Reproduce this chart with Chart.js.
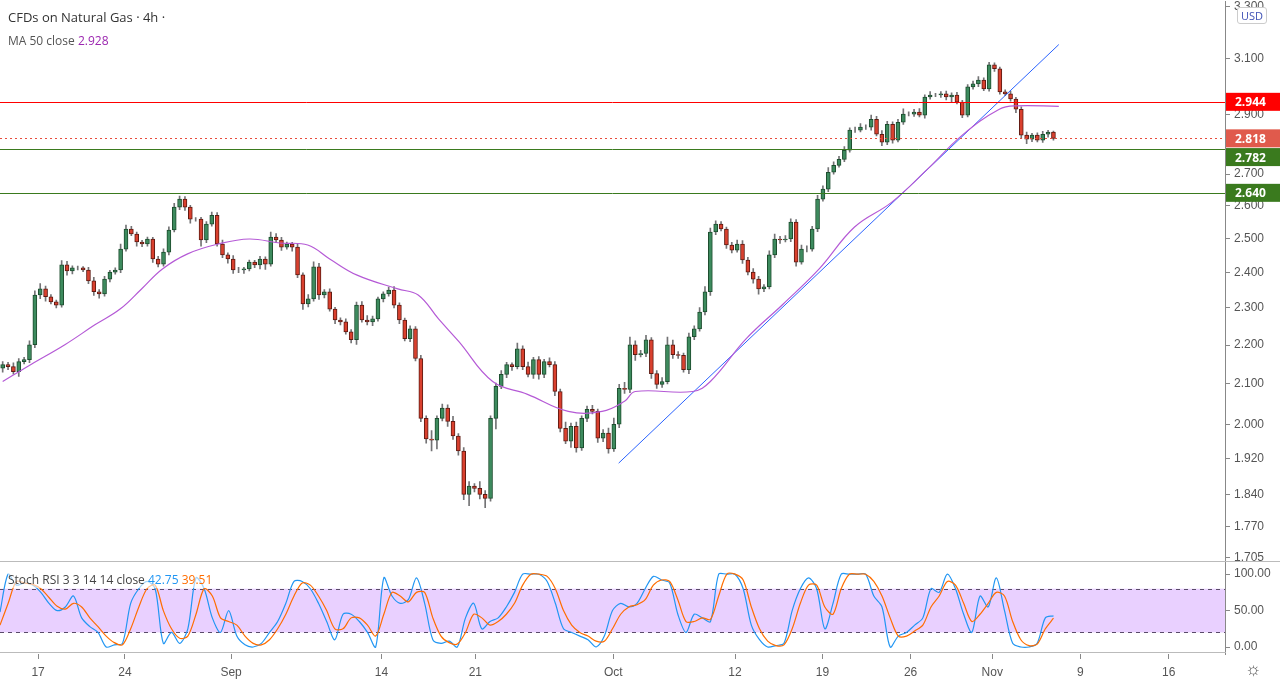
<!DOCTYPE html>
<html><head><meta charset="utf-8">
<script src="https://cdn.jsdelivr.net/npm/chart.js@4.4.0/dist/chart.umd.min.js"></script>
<style>
html,body{margin:0;padding:0;background:#fff;width:1280px;height:680px;overflow:hidden;font-family:"Open Sans",Roboto,sans-serif}
#c1{position:absolute;left:0;top:-10px}
#c2{position:absolute;left:0;top:553px}
.t{position:absolute;font-size:13px;color:#333;white-space:nowrap}
#frame1{position:absolute;left:0;top:561px;width:1280px;height:1px;background:#bbb}
#frame2{position:absolute;left:0;top:652px;width:1226px;height:1px;background:#bbb}
#usd{position:absolute;left:1237px;top:7px;border:1px solid #ccc;border-radius:3px;font-size:11px;color:#3f51b5;padding:0 3px;background:#fff}
</style></head><body>
<canvas id="c1" width="1280" height="588"></canvas>
<canvas id="c2" width="1280" height="129"></canvas>
<div id="frame1"></div><div id="frame2"></div>
<div class="t" style="left:8px;top:8px">CFDs on Natural Gas · 4h ·</div>
<div class="t" style="left:8px;top:32px;font-size:12px;color:#555">MA 50 close <span style="color:#9c27b0">2.928</span></div>
<div class="t" style="left:8px;top:571px;font-size:12px;color:#444;background:rgba(255,255,255,0.6)">Stoch RSI 3 3 14 14 close <span style="color:#2196f3">42.75</span> <span style="color:#ff6d00">39.51</span></div>
<div id="usd">USD</div>
<div class="t" style="left:1245px;top:656px;font-size:18px;color:#555">☼</div>
<script>
const closes=[2.149,2.144,2.131,2.157,2.162,2.201,2.336,2.353,2.331,2.317,2.308,2.422,2.404,2.413,2.413,2.407,2.376,2.345,2.339,2.381,2.401,2.407,2.468,2.528,2.513,2.489,2.483,2.498,2.439,2.424,2.459,2.525,2.595,2.620,2.595,2.558,2.558,2.495,2.543,2.570,2.483,2.451,2.439,2.407,2.407,2.410,2.430,2.422,2.439,2.424,2.504,2.495,2.474,2.483,2.474,2.393,2.311,
2.325,2.416,2.336,2.345,2.297,2.267,2.262,2.235,2.214,2.308,2.267,2.262,2.270,2.325,2.339,2.350,2.308,2.267,2.217,2.243,2.165,2.015,1.966,1.963,2.015,2.040,2.008,1.973,1.938,1.840,1.858,1.853,1.840,1.831,2.015,2.094,2.124,2.149,2.144,2.190,2.144,2.124,2.162,2.124,2.157,2.149,2.081,1.991,1.961,1.996,1.945,2.015,2.037,2.032,1.968,1.980,1.943,2.001,2.089,
2.086,2.201,2.175,2.178,2.214,2.126,2.099,2.106,2.201,2.175,2.173,2.136,2.222,2.243,2.289,2.345,2.519,2.543,2.528,2.480,2.465,2.483,2.436,2.401,2.381,2.353,2.359,2.451,2.498,2.495,2.498,2.549,2.430,2.468,2.468,2.528,2.620,2.652,2.706,2.728,2.748,2.778,2.846,2.846,2.856,2.856,2.883,2.832,2.805,2.866,2.812,2.873,2.901,2.901,2.908,2.897,2.961,2.968,2.968,2.972,2.961,2.968,2.943,2.897,2.997,3.008,3.022,2.990,3.077,3.063,2.979,2.972,2.954,2.918,2.829,2.815,2.829,2.812,2.832,2.839,2.818];
const wickUpMilli=[8,6,10,8,6,10,12,15,8,6,5,12,10,6,5,4,8,10,6,8,5,6,15,12,8,6,5,6,5,8,10,10,12,10,8,6,5,6,8,10,8,12,6,10,8,5,6,5,8,6,15,10,8,6,5,8,6,
12,15,10,6,8,5,6,8,6,8,10,12,8,5,6,8,10,6,5,8,6,8,6,20,6,10,8,12,6,8,10,6,15,8,6,8,10,6,5,15,8,12,6,8,6,10,8,6,15,8,10,6,8,10,6,8,12,15,10,
15,20,10,8,12,6,8,10,20,12,8,6,10,8,12,15,12,10,8,6,8,12,10,8,10,8,6,12,15,8,10,10,8,12,10,8,12,10,15,12,10,12,8,10,12,8,15,10,12,10,8,10,18,8,10,12,8,12,6,8,10,8,10,6,8,10,12,8,10,8,6,8,10,6,8,10,6,8,10,6,4];
const wickDnMilli=[10,8,6,12,6,8,8,10,12,6,8,6,12,8,6,5,8,10,12,6,8,6,8,6,5,12,8,6,10,8,6,8,6,8,10,12,6,18,8,6,6,8,12,10,8,10,6,8,12,15,6,8,10,6,12,8,15,
8,6,12,8,6,10,8,6,8,12,6,8,10,6,8,6,8,10,6,8,6,8,10,25,20,6,12,8,10,12,25,8,10,20,6,25,6,8,10,6,8,6,10,12,8,6,10,8,6,15,10,6,8,6,10,8,10,6,8,
10,8,15,6,8,12,10,8,6,10,8,6,10,8,6,8,10,8,6,10,8,6,10,8,12,15,8,6,8,10,6,8,12,6,8,6,8,6,8,6,6,8,6,8,6,8,10,6,12,8,10,6,8,6,8,6,10,8,6,8,10,20,6,8,6,8,10,6,8,10,8,6,8,12,10,15,8,6,8,10,6];
const firstOpen=2.140;
const maIdx=[0,5.2,11.6,17.2,21.9,25.9,29.8,34.5,40.2,46,51.7,56.9,61,66,73.7,77.5,81.3,85.1,91.4,97.9,105.5,111.8,116,118,128.7,132,138.7,145.6,152.3,158.9,165.8,172.5,179,185.9,189.1,197];
const maVal=[2.106,2.149,2.201,2.254,2.297,2.353,2.410,2.454,2.483,2.498,2.486,2.480,2.439,2.393,2.353,2.336,2.270,2.209,2.106,2.074,2.032,2.032,2.057,2.081,2.081,2.106,2.217,2.311,2.410,2.534,2.610,2.716,2.829,2.918,2.930,2.928];
const trendIdx=[114.9,197];
const trendVal=[1.910,3.153];
const priceTicks=[1.705,1.77,1.84,1.92,2.0,2.1,2.2,2.3,2.4,2.5,2.6,2.7,2.8,2.9,3.1,3.3];
const levels=[2.944,2.818,2.782,2.640];
const levelColors=['#ff0000','#e05a4c','#3a7a1e','#3a7a1e'];
const levelLineColors=['#ff0000','#e74c3c','#3a7a1e','#3a7a1e'];
const levelLabelShift=[0,0,8,0];
const stochK=[48,100,85,88,85,75,60,50,55,70,40,28,20,0,3,5,60,80,90,80,5,20,5,25,95,80,40,20,50,15,3,0,5,20,35,60,90,90,80,60,35,10,45,45,35,20,0,95,70,60,65,95,60,10,5,8,0,40,60,25,35,40,55,75,100,100,100,90,60,25,20,15,10,0,15,50,60,55,60,80,97,92,88,45,20,45,40,35,100,100,100,80,30,10,0,2,5,50,80,95,80,25,60,100,100,100,100,70,55,0,15,20,30,40,80,75,100,80,45,20,70,55,95,50,5,0,0,5,40,42.75];
const stochD=[30,60,90,88,86,80,68,56,52,60,55,40,28,15,6,3,25,55,80,85,50,25,12,15,45,80,70,40,35,30,15,5,3,10,25,45,70,88,85,70,50,25,25,40,40,30,15,45,75,70,62,75,75,40,15,6,4,20,45,40,30,35,45,60,85,100,100,97,80,50,30,20,15,8,8,25,45,55,58,65,85,92,90,65,35,35,40,38,70,100,100,92,55,25,8,2,3,25,60,85,85,55,45,80,100,100,100,90,70,40,15,15,22,30,55,70,90,85,60,35,45,60,75,70,35,10,2,4,25,39.51];
const dateLabels=['17','24','Sep','14','21','Oct','12','19','26','Nov','9','16'];
const dateIdx=[4.66,15.3,28.3,46.7,58.2,75.1,90,100.7,111.5,121.5,132.3,143.1];

const opens=closes.map((c,i)=>i===0?firstOpen:closes[i-1]);
const bodies=closes.map((c,i)=>({x:i,y:[opens[i],c]}));
const wicks=closes.map((c,i)=>({x:i,y:[Math.min(opens[i],c)-(wickDnMilli[i]||6)/1000,Math.max(opens[i],c)+(wickUpMilli[i]||6)/1000]}));
const up=closes.map((c,i)=>c>=opens[i]);

const levelPlugin={id:'lv',afterDatasetsDraw(ch){
 const {ctx,chartArea:a}=ch;const y=ch.scales.y;
 levels.forEach((v,k)=>{const py=Math.round(y.getPixelForValue(v))+0.5;
  ctx.save();ctx.strokeStyle=levelLineColors[k];ctx.lineWidth=1;
  if(k===1)ctx.setLineDash([2,3]);
  ctx.beginPath();ctx.moveTo(0,py);ctx.lineTo(a.right,py);ctx.stroke();ctx.restore();
 });
 ctx.save();
 levels.forEach((v,k)=>{const py=y.getPixelForValue(v)+levelLabelShift[k];
  ctx.fillStyle=levelColors[k];ctx.fillRect(a.right+1,py-9,54,18);
  ctx.fillStyle='#fff';ctx.font='bold 12px "Open Sans",sans-serif';ctx.textBaseline='middle';
  ctx.fillText(v.toFixed(3),a.right+10,py+1);});
 ctx.restore();
}};

new Chart(document.getElementById('c1'),{
 type:'bar',
 data:{datasets:[
  {type:'line',data:maIdx.map((x,i)=>({x,y:maVal[i]})),borderColor:'#b55ad6',borderWidth:1.2,pointRadius:0,tension:0.4,order:0},
  {type:'line',data:trendIdx.map((x,i)=>({x,y:trendVal[i]})),borderColor:'#2962ff',borderWidth:1,pointRadius:0,order:0},
  {data:wicks,backgroundColor:'#737375',barThickness:1,grouped:false,order:2},
  {data:bodies,backgroundColor:up.map(u=>u?'#3d8b5e':'#d9402e'),borderColor:up.map(u=>u?'#1d4d2e':'#5e1a12'),borderWidth:1,borderSkipped:false,barThickness:4,grouped:false,order:1}
 ]},
 options:{responsive:false,animation:false,
  layout:{padding:{left:0,right:0,top:0,bottom:0}},
  plugins:{legend:{display:false},tooltip:{enabled:false}},
  scales:{
   x:{type:'linear',min:-0.5,max:228,offset:false,display:false},
   y:{type:'logarithmic',position:'right',min:1.687,max:3.321,
    afterFit(s){s.width=55;},
    afterBuildTicks(s){s.ticks=priceTicks.map(v=>({value:v}));},
    ticks:{callback:v=>Number(v).toFixed(3),color:'#555',font:{size:12},padding:4,autoSkip:false},
    grid:{drawOnChartArea:false,tickLength:5,color:'#888'},border:{display:true,color:'#888'}}
  }},
 plugins:[levelPlugin]
});

const bandPlugin={id:'band',beforeDatasetsDraw(ch){
 const {ctx,chartArea:a}=ch;const y=ch.scales.y;
 const y80=y.getPixelForValue(80),y20=y.getPixelForValue(20);
 ctx.save();ctx.fillStyle='rgba(206,150,255,0.45)';ctx.fillRect(a.left,y80,a.right-a.left,y20-y80);
 ctx.strokeStyle='#5a4a6a';ctx.setLineDash([4,4]);ctx.lineWidth=1;
 [y80,y20].forEach(p=>{ctx.beginPath();ctx.moveTo(a.left,Math.round(p)+0.5);ctx.lineTo(a.right,Math.round(p)+0.5);ctx.stroke();});
 ctx.restore();
}};
new Chart(document.getElementById('c2'),{
 type:'line',
 data:{datasets:[
  {data:stochD.map((v,i)=>({x:i,y:v})),borderColor:'#ff6d00',borderWidth:1.2,pointRadius:0,tension:0.3},
  {data:stochK.map((v,i)=>({x:i,y:v})),borderColor:'#2196f3',borderWidth:1.2,pointRadius:0,tension:0.3}
 ]},
 options:{responsive:false,animation:false,layout:{padding:0},
  plugins:{legend:{display:false},tooltip:{enabled:false}},
  scales:{
   x:{type:'linear',min:0,max:150,
    afterBuildTicks(s){s.ticks=dateIdx.map(v=>({value:v}));},
    afterFit(s){s.height=28;},
    ticks:{callback:(v)=>{const k=dateIdx.indexOf(v);return k>=0?dateLabels[k]:'';},color:'#555',font:{size:12},maxRotation:0,autoSkip:false,padding:6},
    grid:{drawOnChartArea:false,tickLength:5,color:'#888'},border:{display:false}},
   y:{position:'right',min:-9.6,max:113.7,
    afterFit(s){s.width=55;},
    afterBuildTicks(s){s.ticks=[0,50,100].map(v=>({value:v}));},
    ticks:{callback:v=>Number(v).toFixed(2),color:'#555',font:{size:12},padding:4},
    grid:{drawOnChartArea:false,tickLength:5,color:'#888'},border:{display:true,color:'#888'}}
  }},
 plugins:[bandPlugin]
});
</script>
</body></html>
